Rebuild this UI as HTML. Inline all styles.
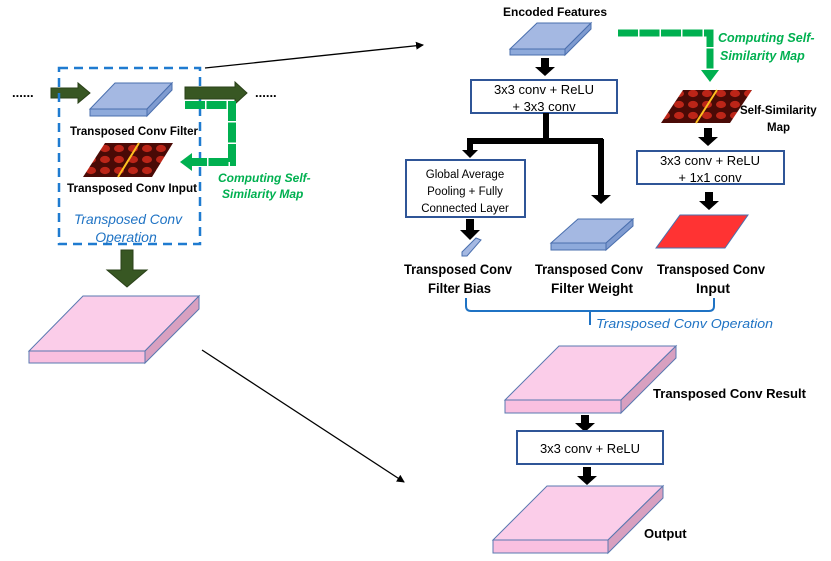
<!DOCTYPE html>
<html><head><meta charset="utf-8"><style>
html,body{margin:0;padding:0;background:#fff;}
svg{display:block;}
text{font-family:"Liberation Sans",sans-serif;}
</style></head><body>
<svg width="831" height="561" viewBox="0 0 831 561" xmlns="http://www.w3.org/2000/svg">
<defs>
<pattern id="hm" width="14" height="11" patternUnits="userSpaceOnUse">
<rect width="14" height="11" fill="#4a0a06"/>
<ellipse cx="7" cy="5.5" rx="5" ry="3.6" fill="#c9281a" opacity="0.9"/>
</pattern>
<marker id="ah" markerWidth="8" markerHeight="8" refX="7" refY="4" orient="auto" markerUnits="userSpaceOnUse"><path d="M0,0 L8,4 L0,8 Z" fill="#000"/></marker>
</defs>

<!-- LEFT -->
<text x="12" y="97" font-size="13" font-weight="bold">......</text>
<path d="M51,88 H78 V83 L90,93 L78,103 V98 H51 Z" fill="#385723" stroke="#2a4019"/>
<rect x="59" y="68" width="141" height="176" fill="none" stroke="#1f7bd0" stroke-width="2.5" stroke-dasharray="9,6"/>
<polygon points="90,109 147,109 172,83 115,83" fill="#a4b8e2" stroke="#4a6fae"/>
<polygon points="90,109 147,109 147,116 90,116" fill="#8eaadb" stroke="#4a6fae"/>
<polygon points="147,109 172,83 172,90 147,116" fill="#7f9bd0" stroke="#4a6fae"/>
<text x="70" y="135" font-size="12" font-weight="bold" textLength="128" lengthAdjust="spacingAndGlyphs">Transposed Conv Filter</text>
<polygon points="83,177 105,143 173,143 152,177" fill="url(#hm)"/>
<line x1="118" y1="177" x2="139" y2="143" stroke="#ffc020" stroke-width="2"/>
<text x="67" y="192" font-size="12" font-weight="bold" textLength="130" lengthAdjust="spacingAndGlyphs">Transposed Conv Input</text>
<text x="74" y="224" font-size="14" font-style="italic" fill="#1f73c4" textLength="108" lengthAdjust="spacingAndGlyphs">Transposed Conv</text>
<text x="126" y="242" font-size="14" font-style="italic" fill="#1f73c4" text-anchor="middle">Operation</text>
<path d="M185,87 H235 V82 L247,93 L235,104 V99 H185 Z" fill="#385723" stroke="#2a4019"/>
<text x="255" y="97" font-size="13" font-weight="bold">......</text>
<path d="M185,105 H232 V162 H192" fill="none" stroke="#00b050" stroke-width="8" stroke-dasharray="20,1.5"/>
<polygon points="192,153 180,162 192,171" fill="#00b050"/>
<text x="218" y="182" font-size="12" font-style="italic" font-weight="bold" fill="#00b050">Computing Self-</text>
<text x="222" y="198" font-size="12" font-style="italic" font-weight="bold" fill="#00b050">Similarity Map</text>
<path d="M121,250 H133 V270 H147 L127,287 L107,270 H121 Z" fill="#385723" stroke="#2a4019"/>
<polygon points="29,351 145,351 199,296 83,296" fill="#fbcde9" stroke="#5a78b0"/>
<polygon points="29,351 145,351 145,363 29,363" fill="#f9c0e0" stroke="#5a78b0"/>
<polygon points="145,351 199,296 199,309 145,363" fill="#d8a0c0" stroke="#5a78b0"/>

<line x1="205" y1="68" x2="423" y2="45" stroke="#000" stroke-width="1.3" marker-end="url(#ah)"/>
<line x1="202" y1="350" x2="404" y2="482" stroke="#000" stroke-width="1.3" marker-end="url(#ah)"/>

<!-- RIGHT -->
<text x="555" y="16" font-size="12" font-weight="bold" text-anchor="middle">Encoded Features</text>
<polygon points="510,49 565,49 591,23 537,23" fill="#a4b8e2" stroke="#4a6fae"/>
<polygon points="510,49 565,49 565,55 510,55" fill="#8eaadb" stroke="#4a6fae"/>
<polygon points="565,49 591,23 591,29 565,55" fill="#7f9bd0" stroke="#4a6fae"/>
<path d="M541,58 H549 V67 H555 L545,76 L535,67 H541 Z" fill="#000"/>
<rect x="471" y="80" width="146" height="33" fill="#fff" stroke="#2f5597" stroke-width="2"/>
<text x="544" y="94" font-size="13" text-anchor="middle">3x3 conv + ReLU</text>
<text x="544" y="111" font-size="13" text-anchor="middle">+ 3x3 conv</text>
<path d="M546,113 V139 M467,141 H603 M470,139 V150 M601,139 V195" fill="none" stroke="#000" stroke-width="6"/>
<polygon points="462,150 478,150 470,158" fill="#000"/>
<polygon points="591,195 611,195 601,204" fill="#000"/>
<rect x="406" y="160" width="119" height="57" fill="#fff" stroke="#2f5597" stroke-width="2"/>
<text x="465" y="178" font-size="11.5" text-anchor="middle">Global Average</text>
<text x="465" y="195" font-size="11.5" text-anchor="middle">Pooling + Fully</text>
<text x="465" y="212" font-size="11.5" text-anchor="middle">Connected Layer</text>
<path d="M466,219 H474 V230 H480 L470,240 L460,230 H466 Z" fill="#000"/>
<polygon points="462,252 476,238 481,240 467,256 462,256" fill="#a4b8e2" stroke="#4a6fae"/>
<polygon points="551,243 606,243 633,219 578,219" fill="#a4b8e2" stroke="#4a6fae"/>
<polygon points="551,243 606,243 606,250 551,250" fill="#8eaadb" stroke="#4a6fae"/>
<polygon points="606,243 633,219 633,226 606,250" fill="#7f9bd0" stroke="#4a6fae"/>
<g font-size="14" font-weight="bold" lengthAdjust="spacingAndGlyphs">
<text x="404" y="274" textLength="108" lengthAdjust="spacingAndGlyphs">Transposed Conv</text>
<text x="428" y="293" textLength="63" lengthAdjust="spacingAndGlyphs">Filter Bias</text>
<text x="535" y="274" textLength="108" lengthAdjust="spacingAndGlyphs">Transposed Conv</text>
<text x="551" y="293" textLength="82" lengthAdjust="spacingAndGlyphs">Filter Weight</text>
<text x="657" y="274" textLength="108" lengthAdjust="spacingAndGlyphs">Transposed Conv</text>
<text x="696" y="293" textLength="34" lengthAdjust="spacingAndGlyphs">Input</text>
</g>
<path d="M466,298 V306 Q466,311 471,311 H590 V325 M590,311 H709 Q714,311 714,306 V298" fill="none" stroke="#1f73c4" stroke-width="2"/>
<text x="596" y="328" font-size="13" font-style="italic" fill="#1f73c4" textLength="177" lengthAdjust="spacingAndGlyphs">Transposed Conv Operation</text>

<path d="M618,33 H710 V72" fill="none" stroke="#00b050" stroke-width="7" stroke-dasharray="20,1.5"/>
<polygon points="701,70 719,70 710,82" fill="#00b050"/>
<text x="718" y="42" font-size="12.5" font-style="italic" font-weight="bold" fill="#00b050">Computing Self-</text>
<text x="720" y="60" font-size="12.5" font-style="italic" font-weight="bold" fill="#00b050">Similarity Map</text>
<polygon points="661,123 683,90 752,90 730,123" fill="url(#hm)"/>
<line x1="696" y1="123" x2="717" y2="90" stroke="#ffc020" stroke-width="2"/>
<text x="740" y="114" font-size="11.5" font-weight="bold">Self-Similarity</text>
<text x="767" y="131" font-size="11.5" font-weight="bold">Map</text>
<path d="M704,128 H712 V137 H718 L708,146 L698,137 H704 Z" fill="#000"/>
<rect x="637" y="151" width="147" height="33" fill="#fff" stroke="#2f5597" stroke-width="2"/>
<text x="710" y="165" font-size="13" text-anchor="middle">3x3 conv + ReLU</text>
<text x="710" y="182" font-size="13" text-anchor="middle">+ 1x1 conv</text>
<path d="M705,192 H713 V201 H719 L709,210 L699,201 H705 Z" fill="#000"/>
<polygon points="656,248 680,215 748,215 725,248" fill="#ff3333" stroke="#4a6fae"/>

<polygon points="505,400 621,400 676,346 559,346" fill="#fbcde9" stroke="#5a78b0"/>
<polygon points="505,400 621,400 621,413 505,413" fill="#f9c0e0" stroke="#5a78b0"/>
<polygon points="621,400 676,346 676,358 621,413" fill="#d8a0c0" stroke="#5a78b0"/>
<text x="653" y="398" font-size="13" font-weight="bold" textLength="153" lengthAdjust="spacingAndGlyphs">Transposed Conv Result</text>
<path d="M581,415 H589 V423 H595 L585,432 L575,423 H581 Z" fill="#000"/>
<rect x="517" y="431" width="146" height="33" fill="#fff" stroke="#2f5597" stroke-width="2"/>
<text x="590" y="453" font-size="13" text-anchor="middle">3x3 conv + ReLU</text>
<path d="M583,467 H591 V476 H597 L587,485 L577,476 H583 Z" fill="#000"/>
<polygon points="493,540 608,540 663,486 547,486" fill="#fbcde9" stroke="#5a78b0"/>
<polygon points="493,540 608,540 608,553 493,553" fill="#f9c0e0" stroke="#5a78b0"/>
<polygon points="608,540 663,486 663,498 608,553" fill="#d8a0c0" stroke="#5a78b0"/>
<text x="644" y="538" font-size="13" font-weight="bold">Output</text>
</svg>
</body></html>
